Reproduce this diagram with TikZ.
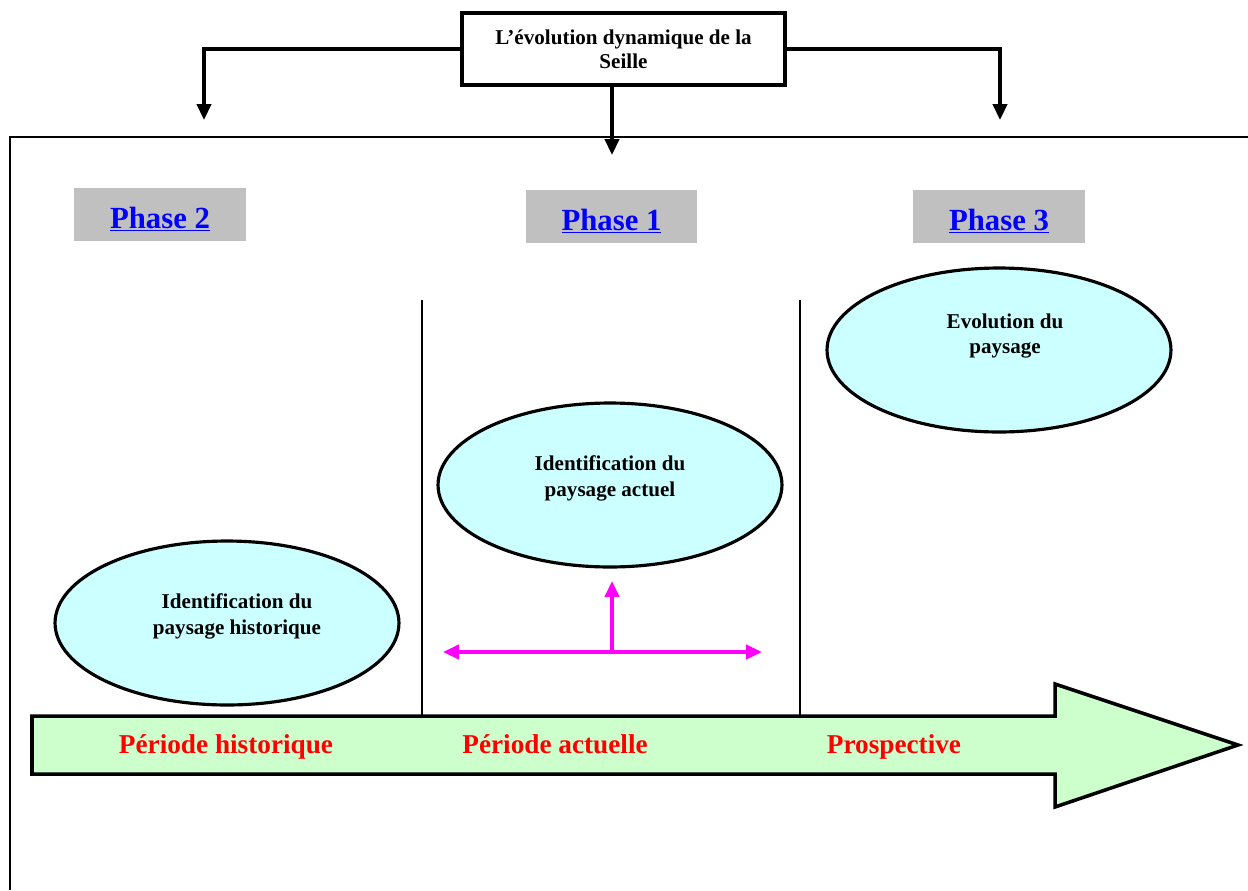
\documentclass[tikz,border=0pt]{standalone}
\usepackage{fontspec}
\setmainfont{Liberation Serif}
\usepackage{xcolor}
\usetikzlibrary{arrows.meta, shapes.geometric}

\definecolor{phasegray}{HTML}{C0C0C0}
\definecolor{ellcyan}{HTML}{CCFFFF}
\definecolor{arrgreen}{HTML}{CCFFCC}
\definecolor{pinkline}{HTML}{FF00FF}

\tikzset{
    titlebox/.style={draw, line width=2pt, fill=white, minimum width=6.46cm, minimum height=1.44cm, align=center, font=\fontsize{12}{13.6}\selectfont\bfseries},
    phasebox/.style={fill=phasegray, minimum width=3.44cm, minimum height=1.06cm, text height=15.4pt, text depth=0pt, text=blue, font=\fontsize{17.5}{20}\selectfont\bfseries},
    landell/.style={ellipse, draw, line width=1.8pt, fill=ellcyan, minimum width=6.88cm, minimum height=3.28cm},
    elltext/.style={align=center, font=\fontsize{12}{14.7}\selectfont\bfseries},
    periode/.style={anchor=base, text=red, font=\fontsize{15.5}{18}\selectfont\bfseries},
    flow/.style={line width=2pt, -{Triangle[length=9pt, width=8pt]}},
    pink/.style={draw=pinkline, line width=2pt}
}

\begin{document}
\begin{tikzpicture}[x=0.02cm, y=-0.02cm]
    \useasboundingbox (0,0) rectangle (1248,890);

    % --- FRAME ---
    \draw[line width=1.6pt] (10,890) -- (10,137) -- (1248,137);

    % --- TITLE AND BRANCHES ---
    \node[titlebox] (title) at (623.5,49) {L'évolution dynamique de la\\Seille};
    \coordinate (left end) at (204,120);
    \coordinate (right end) at (1000,120);
    \coordinate (mid end) at (612,155);
    \draw[flow] (title.west) -| (left end);
    \draw[flow] (title.east) -| (right end);
    \draw[flow] (title.south -| mid end) -- (mid end);

    % --- PHASE LABELS ---
    \node[phasebox] (phase2) at (160,214.5) {\underline{Phase 2}};
    \node[phasebox] (phase1) at (611.5,216.5) {\underline{Phase 1}};
    \node[phasebox] (phase3) at (999,216.5) {\underline{Phase 3}};

    % --- SEPARATORS ---
    \draw[line width=1.4pt] (422,300) -- (422,716);
    \draw[line width=1.4pt] (800,300) -- (800,716);

    % --- ELLIPSES ---
    \node[landell] (evol) at (999,350) {};
    \node[elltext] (evoltxt) at (1005,336) {Evolution du\\paysage};
    \node[landell] (actuel) at (610,485) {};
    \node[elltext] (actueltxt) at (610,478) {Identification du\\paysage actuel};
    \node[landell] (histo) at (227,623) {};
    \node[elltext] (histotxt) at (237,616) {Identification du\\paysage historique};

    % --- MAGENTA ARROWS ---
    \coordinate (pl) at (443,652);
    \coordinate (pr) at (762,652);
    \coordinate (pc) at (612,652);
    \coordinate (pu) at (612,581);
    \draw[pink, {Triangle[length=9pt, width=8pt]}-{Triangle[length=9pt, width=8pt]}] (pl) -- (pr);
    \draw[pink, -{Triangle[length=9pt, width=8pt]}] (pc) -- (pu);

    % --- TIME ARROW ---
    \draw[line width=2pt, fill=arrgreen] (32,716) -- (1055,716) -- (1055,684) -- (1238,745)
        -- (1055,807) -- (1055,774) -- (32,774) -- cycle;
    \node[periode] (hist) at (226,753) {Période historique};
    \node[periode] (act) at (555,753) {Période actuelle};
    \node[periode] (pros) at (894,753) {Prospective};
\end{tikzpicture}
\end{document}
